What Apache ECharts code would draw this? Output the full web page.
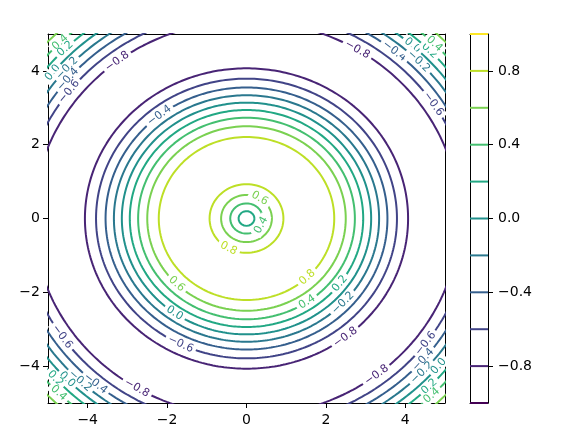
<!DOCTYPE html>
<html>
<head>
<meta charset="utf-8">
<script src="https://cdn.jsdelivr.net/npm/echarts@6/dist/echarts.min.js"></script>
<style>
  html, body { margin: 0; padding: 0; background: #fff; }
  #chart { width: 576px; height: 432px; }
</style>
</head>
<body>
<div id="chart"></div>
<script>
// contour levels and their viridis colours
const levels = [-1.0, -0.8, -0.6, -0.4, -0.2, 0.0, 0.2, 0.4, 0.6, 0.8, 1.0]
const levelColors = ['#440154', '#482475', '#414487', '#355f8d', '#2a788e', '#21918c',
  '#22a884', '#44bf70', '#7ad151', '#bddf26', '#fde725']

// rings (radius in data units), grouped by zone
const innerLevels = [0.2, 0.4, 0.6, 0.8]
const innerRadii = [0.2, 0.41, 0.64, 0.93]
const middleLevels = [0.8, 0.6, 0.4, 0.2, 0.0, -0.2, -0.4, -0.6, -0.8]
const middleRadii = [2.21, 2.5, 2.73, 2.94, 3.14, 3.34, 3.55, 3.79, 4.07]
const cornerLevels = [-0.8, -0.6, -0.4, -0.2, 0.0, 0.2, 0.4, 0.6]
const cornerRadii = [5.36, 5.64, 5.87, 6.08, 6.28, 6.48, 6.69, 6.93]

// inline labels: level, ring radius, angle (deg) on the ring
const labelLevels = [0.6, 0.4, 0.8,
  -0.4, 0.6, 0.0, -0.6, 0.8, 0.4, 0.2, -0.2, -0.8,
  0.4, 0.2, 0.0, -0.2, -0.4, -0.6, -0.8,
  -0.8, -0.4, 0.0, -0.2, 0.2, 0.4, -0.6,
  -0.6, -0.8, -0.4, -0.2, 0.0, 0.2, 0.4,
  -0.6, -0.4, -0.2, 0.0, 0.2, 0.4, -0.8]
const labelRadii = [0.64, 0.41, 0.93,
  3.55, 2.5, 3.14, 3.79, 2.21, 2.73, 2.94, 3.34, 4.07,
  6.69, 6.48, 6.28, 6.08, 5.87, 5.64, 5.36,
  5.36, 5.87, 6.28, 6.08, 6.48, 6.69, 5.64,
  5.64, 5.36, 5.87, 6.08, 6.28, 6.48, 6.69,
  5.64, 5.87, 6.08, 6.28, 6.48, 6.69, 5.36]
const labelAngles = [58.6, -26.6, 240.9,
  128.2, 225.3, 234.8, 244, -46.1, -56, -36.9, -43.3, -52.2,
  134.5, 134.8, 141, 138, 140, 142.4, 127.4,
  58.6, 50.6, 48.3, 44.5, 44.6, 45, 33.4,
  214.6, 239, 229.6, 226.4, 224, 222, 225,
  -36.9, -40.7, -43.4, -39.6, -44.7, -45.8, -52.3]

const axisTicks = [-4, -2, 0, 2, 4]
const colorbarTicks = [-0.8, -0.4, 0.0, 0.4, 0.8]

const FONT = 'DejaVu Sans'
const colorOf = l => levelColors[Math.round((l + 1) / 0.2)]
const fmtLevel = v => (v < 0 ? '\u2212' : '') + Math.abs(v).toFixed(1)
const fmtInt = v => (v < 0 ? '\u2212' : '') + Math.abs(v)

function ring(r) {
  const pts = []
  for (let t = 0; t <= 360; t += 1) {
    const a = t * Math.PI / 180
    pts.push([r * Math.cos(a), r * Math.sin(a)])
  }
  return pts
}

const series = []
function addRings(lvls, radii) {
  lvls.forEach((l, i) => {
    series.push({
      type: 'line',
      xAxisIndex: 0,
      yAxisIndex: 0,
      data: ring(radii[i]),
      showSymbol: false,
      clip: true,
      silent: true,
      lineStyle: { color: colorOf(l), width: 2 },
      z: 2
    })
  })
}
addRings(innerLevels, innerRadii)
addRings(middleLevels, middleRadii)
addRings(cornerLevels, cornerRadii)

// inline contour labels
series.push({
  type: 'custom',
  xAxisIndex: 0,
  yAxisIndex: 0,
  z: 5,
  silent: true,
  data: labelLevels.map((l, i) => {
    const a = labelAngles[i] * Math.PI / 180
    return [labelRadii[i] * Math.cos(a), labelRadii[i] * Math.sin(a), l]
  }),
  renderItem(params, api) {
    const x = api.value(0)
    const y = api.value(1)
    const l = api.value(2)
    const p = api.coord([x, y])
    const q = api.coord([x - y * 0.01, y + x * 0.01])
    let ang = Math.atan2(-(q[1] - p[1]), q[0] - p[0])
    if (ang > Math.PI / 2) ang -= Math.PI
    if (ang < -Math.PI / 2) ang += Math.PI
    return {
      type: 'text',
      x: p[0],
      y: p[1],
      rotation: ang,
      style: {
        text: fmtLevel(l),
        fill: colorOf(l),
        font: '11px "' + FONT + '"',
        align: 'center',
        verticalAlign: 'middle',
        backgroundColor: '#fff',
        padding: [0, 3]
      }
    }
  }
})

// colorbar lines
levels.forEach(l => {
  series.push({
    type: 'line',
    xAxisIndex: 1,
    yAxisIndex: 1,
    data: [[0, l], [1, l]],
    showSymbol: false,
    clip: false,
    silent: true,
    lineStyle: { color: colorOf(l), width: 2 },
    z: 2
  })
})

// plain frame edge (no ticks / labels)
function edge(gridIndex, position, min, max) {
  return {
    type: 'value', gridIndex, position, min, max,
    axisLine: { show: true, onZero: false, lineStyle: { color: '#000', width: 1 } },
    axisTick: { show: false },
    axisLabel: { show: false },
    splitLine: { show: false }
  }
}
const frameLine = { show: true, onZero: false, lineStyle: { color: '#000', width: 1 } }

const chart = echarts.init(document.getElementById('chart'), null, { renderer: 'canvas' })
chart.setOption({
  animation: false,
  backgroundColor: '#fff',
  grid: [
    { left: 48, top: 34, right: 131, bottom: 29 },
    { left: 470, top: 34, right: 88, bottom: 29 }
  ],
  xAxis: [
    {
      type: 'value', gridIndex: 0, min: -5, max: 5, position: 'bottom',
      axisLine: frameLine,
      splitLine: { show: false },
      axisTick: { show: true, length: 5, customValues: axisTicks, lineStyle: { color: '#000', width: 1 } },
      axisLabel: { customValues: axisTicks, formatter: fmtInt, color: '#000', fontFamily: FONT, fontSize: 14, margin: 10 }
    },
    {
      type: 'value', gridIndex: 1, min: 0, max: 1, position: 'bottom',
      axisLine: frameLine,
      axisTick: { show: false },
      axisLabel: { show: false },
      splitLine: { show: false }
    },
    edge(0, 'top', -5, 5),
    edge(1, 'top', 0, 1)
  ],
  yAxis: [
    {
      type: 'value', gridIndex: 0, min: -5, max: 5, position: 'left',
      axisLine: frameLine,
      splitLine: { show: false },
      axisTick: { show: true, length: 5, customValues: axisTicks, lineStyle: { color: '#000', width: 1 } },
      axisLabel: { customValues: axisTicks, formatter: fmtInt, color: '#000', fontFamily: FONT, fontSize: 14, margin: 8 }
    },
    {
      type: 'value', gridIndex: 1, min: -1, max: 1, position: 'right',
      axisLine: frameLine,
      splitLine: { show: false },
      axisTick: { show: true, length: 5, customValues: colorbarTicks, lineStyle: { color: '#000', width: 1 } },
      axisLabel: { customValues: colorbarTicks, formatter: fmtLevel, color: '#000', fontFamily: FONT, fontSize: 14, margin: 10 }
    },
    edge(0, 'right', -5, 5),
    edge(1, 'left', -1, 1)
  ],
  series: series
})
</script>
</body>
</html>
